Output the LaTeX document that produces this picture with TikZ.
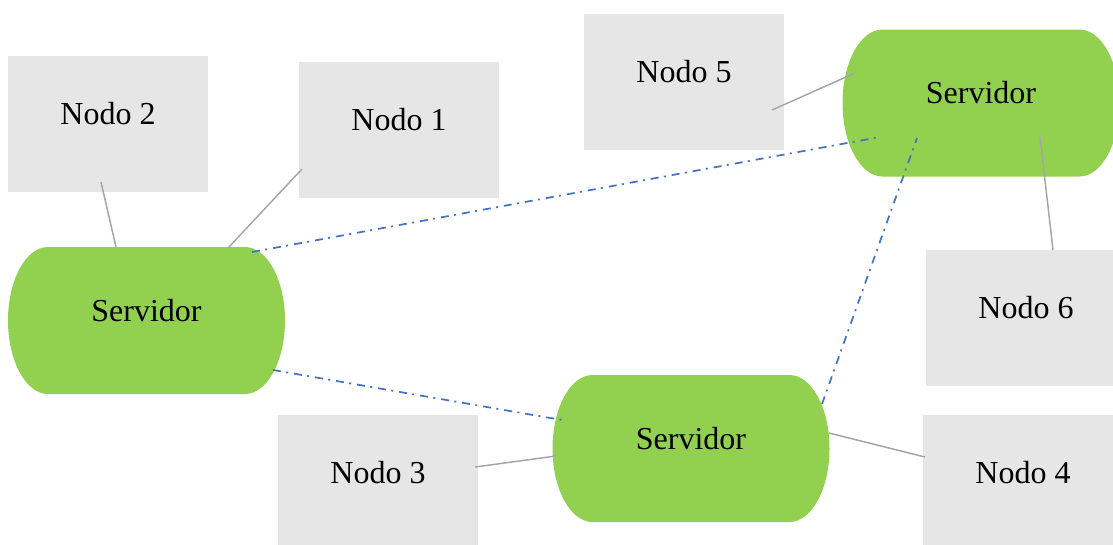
\documentclass[tikz,border=0pt]{standalone}
\usepackage{fontspec}
\setmainfont{Liberation Serif}
\definecolor{srvgreen}{HTML}{92D050}
\definecolor{boxgray}{HTML}{E6E6E6}
\definecolor{linegray}{HTML}{A5A5A5}
\definecolor{linkblue}{HTML}{4472C4}
\tikzset{
  nodobox/.style={rectangle, fill=boxgray, minimum width=150pt, minimum height=102pt, inner sep=0pt},
  servidor/.style={rectangle, minimum width=207.75pt, minimum height=110.25pt, inner sep=0pt,
    path picture={\fill[srvgreen] ([xshift=30pt]path picture bounding box.north west)
      -- ([xshift=-30pt]path picture bounding box.north east)
      arc[start angle=90, end angle=-90, x radius=30pt, y radius=55.125pt]
      -- ([xshift=30pt]path picture bounding box.south west)
      arc[start angle=270, end angle=90, x radius=30pt, y radius=55.125pt] -- cycle;}},
  txt/.style={font=\fontsize{24pt}{28pt}\selectfont},
  glink/.style={draw=linegray, line width=1.1pt},
  blink/.style={draw=linkblue, line width=1.3pt, dash pattern=on 6pt off 4pt on 1.5pt off 4.5pt}
}
\begin{document}
\begin{tikzpicture}[x=0.75pt, y=-0.75pt]
\useasboundingbox (0,0) rectangle (1113,544);
% boxes
\node[nodobox, label={[txt, yshift=7.5pt]center:Nodo 2}] (n2) at (108,124) {};
\node[nodobox, label={[txt, yshift=7.5pt]center:Nodo 1}] (n1) at (399,130) {};
\node[nodobox, label={[txt, yshift=7.5pt]center:Nodo 5}] (n5) at (684,82) {};
\node[nodobox, label={[txt, yshift=7.5pt]center:Nodo 6}] (n6) at (1026,318) {};
\node[nodobox, label={[txt, yshift=7.5pt]center:Nodo 3}] (n3) at (378,483) {};
\node[nodobox, label={[txt, yshift=7.5pt]center:Nodo 4}] (n4) at (1023,483) {};
% servers
\node[servidor, label={[txt, yshift=7.5pt]center:Servidor}] (s1) at (146.5,320.5) {};
\node[servidor, label={[txt, yshift=7.5pt]center:Servidor}] (s2) at (691,448.5) {};
\node[servidor, label={[txt, yshift=7.5pt]center:Servidor}] (s3) at (981,103) {};
% gray links
\draw[glink] ([shift={(-7,58)}]n2.center) -- ([shift={(-30.5,-73.5)}]s1.center);
\draw[glink] ([shift={(-97,39)}]n1.center) -- ([shift={(81.5,-72.5)}]s1.center);
\draw[glink] ([shift={(88,28)}]n5.center) -- ([shift={(-126,-30)}]s3.center);
\draw[glink] ([shift={(59,34)}]s3.center) -- ([shift={(27,-68)}]n6.center);
\draw[glink] ([shift={(97,-16)}]n3.center) -- ([shift={(-135,7.5)}]s2.center);
\draw[glink] ([shift={(138,-15.5)}]s2.center) -- ([shift={(-98,-26)}]n4.center);
% blue links
\draw[blink] ([shift={(105.5,-68.5)}]s1.center) -- ([shift={(-101,34)}]s3.center);
\draw[blink] ([shift={(126.5,49.5)}]s1.center) -- ([shift={(-129,-28.5)}]s2.center);
\draw[blink] ([shift={(131,-44.5)}]s2.center) -- ([shift={(-64,35)}]s3.center);
\end{tikzpicture}
\end{document}
